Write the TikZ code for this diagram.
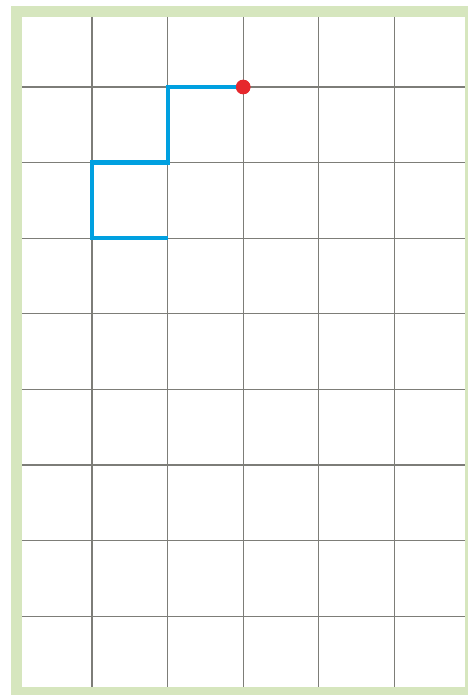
\documentclass[tikz,border=0pt]{standalone}
\definecolor{framegreen}{RGB}{214,230,190}
\definecolor{gridgray}{RGB}{125,125,120}
\definecolor{pathblue}{RGB}{0,160,224}
\definecolor{dotred}{RGB}{230,40,45}
\begin{document}
\begin{tikzpicture}[x=1pt,y=-1pt,
  gridline/.style={draw=gridgray,line width=1.3pt},
  route/.style={draw=pathblue,line width=4.2pt,line join=miter,line cap=butt},
  reddot/.style={circle,fill=dotred,inner sep=0pt,minimum size=14.5pt}]
\useasboundingbox (0,0) rectangle (468,695);
% green frame
\fill[framegreen] (11,6) rectangle (468,695);
\fill[white] (22,17) rectangle (465,687);
% grid
\foreach \i in {0,...,4} {
  \draw[gridline] ({92+75.6*\i},17) -- ({92+75.6*\i},687);
}
\foreach \j in {0,...,7} {
  \draw[gridline] (22,{87+75.6*\j}) -- (465,{87+75.6*\j});
}
% route
\coordinate (p1) at (167.6,87);
\coordinate (p2) at (167.6,162.6);
\coordinate (p3) at (92,162.6);
\coordinate (p4) at (92,238.2);
\coordinate (p5) at (167.6,238.2);
\node[reddot] (start) at (243.2,87) {};
\draw[route] (start.center) -- (p1) -- (p2) -- (p3) -- (p4) -- (p5);
\node[reddot] at (start) {};
\end{tikzpicture}
\end{document}
